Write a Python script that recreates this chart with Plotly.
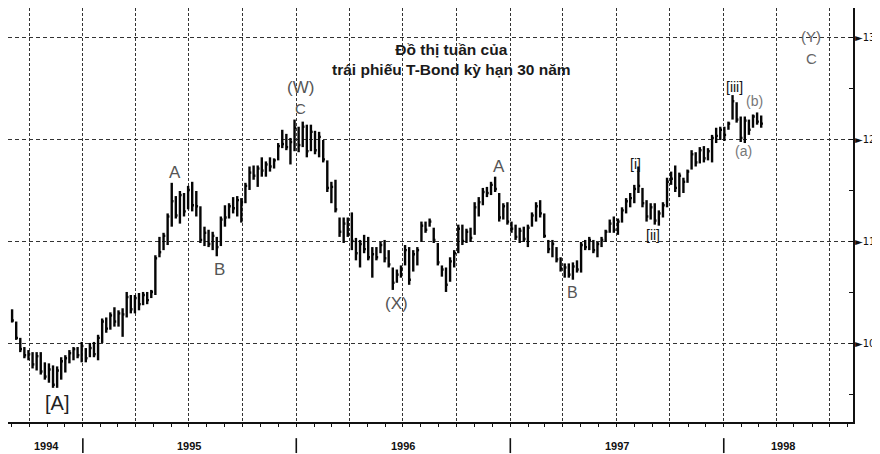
import plotly.graph_objects as go
import pandas as pd

# ---- weekly T-Bond bars (price points), first week ending 1994-09-02 ----
start_week = "1994-09-02"

highs = [
    103.4, 102.2, 100.6, 99.7, 99.4, 99.2, 99.2, 99.2, 98.2, 98.1,
    97.9, 97.8, 98.7, 98.9, 99.4, 99.7, 99.7, 100.2, 99.6, 100.1,
    100.2, 100.9, 102.5, 102.6, 103.1, 103.6, 103.3, 103.5, 105.1, 104.8,
    104.8, 105.0, 105.1, 105.1, 105.3, 108.7, 110.5, 110.9, 112.8, 115.8,
    114.5, 115.0, 114.8, 115.5, 115.9, 115.0, 113.5, 111.5, 111.2, 111.0,
    110.5, 112.5, 113.6, 113.8, 114.4, 114.5, 114.3, 115.8, 117.4, 117.5,
    117.5, 118.3, 117.9, 118.3, 118.2, 119.7, 121.0, 120.6, 120.2, 122.0,
    121.3, 121.8, 121.5, 121.5, 120.9, 120.8, 120.0, 118.0, 115.9, 116.1,
    112.4, 112.4, 112.4, 112.9, 110.4, 110.2, 110.7, 110.5, 109.5, 109.5,
    110.0, 110.2, 109.2, 107.5, 107.3, 107.7, 109.7, 109.5, 109.2, 109.5,
    112.0, 112.0, 112.3, 111.4, 109.9, 107.7, 107.5, 108.5, 109.2, 111.7,
    111.7, 111.3, 111.4, 113.9, 114.4, 115.3, 115.4, 115.9, 116.4, 114.8,
    113.8, 113.9, 112.0, 111.7, 111.4, 111.5, 111.7, 112.9, 113.9, 114.1,
    112.8, 110.2, 110.2, 109.5, 108.5, 107.9, 107.9, 108.0, 108.2, 110.0,
    110.2, 110.5, 110.2, 110.0, 110.5, 111.2, 112.2, 112.5, 112.3, 113.4,
    114.3, 114.8, 115.6, 117.4, 115.3, 114.1, 113.8, 113.8, 113.1, 113.9,
    116.3, 116.9, 117.5, 116.8, 116.3, 117.1, 119.0, 118.8, 119.3, 119.4,
    119.2, 120.5, 121.2, 121.3, 121.3, 121.8, 124.4, 123.7, 122.3, 122.3,
    122.0, 122.5, 122.7, 122.4,
]

lows = [
    102.1, 100.4, 99.2, 98.6, 98.4, 97.6, 97.4, 97.0, 96.5, 96.2,
    95.7, 95.7, 96.5, 97.2, 98.1, 98.4, 98.6, 98.2, 98.2, 98.7,
    98.7, 98.4, 100.1, 101.1, 101.4, 101.7, 101.7, 100.7, 102.6, 103.0,
    103.0, 103.3, 103.8, 103.9, 104.5, 104.8, 108.5, 109.2, 109.7, 111.5,
    112.3, 111.8, 112.5, 113.2, 113.0, 112.5, 109.9, 109.6, 109.5, 109.2,
    108.6, 109.6, 111.5, 112.3, 112.8, 112.5, 111.9, 113.8, 115.1, 116.1,
    115.4, 116.4, 116.4, 116.9, 117.2, 118.0, 119.2, 119.0, 117.6, 118.9,
    118.8, 119.3, 118.3, 118.9, 118.6, 118.3, 117.8, 114.9, 113.8, 112.9,
    110.5, 109.9, 110.5, 109.2, 108.2, 107.5, 108.9, 108.2, 106.5, 108.2,
    108.9, 108.0, 107.5, 105.3, 106.0, 106.5, 107.7, 105.8, 107.1, 107.7,
    110.0, 110.9, 111.5, 109.9, 107.7, 106.6, 105.1, 106.1, 107.5, 108.9,
    109.7, 109.9, 110.0, 110.7, 112.5, 113.6, 114.4, 114.6, 114.9, 112.0,
    112.2, 111.7, 110.9, 110.2, 109.9, 110.0, 109.5, 111.5, 112.0, 112.4,
    110.4, 108.9, 108.5, 108.0, 107.1, 106.5, 106.5, 106.3, 107.0, 107.0,
    109.2, 109.2, 108.9, 108.5, 109.5, 110.0, 110.9, 110.9, 110.7, 111.9,
    112.8, 113.4, 113.8, 114.8, 113.4, 112.0, 112.2, 111.7, 111.6, 112.4,
    113.4, 115.6, 114.9, 114.4, 114.8, 115.8, 117.1, 117.4, 117.7, 117.8,
    118.0, 117.8, 119.7, 120.0, 119.9, 121.0, 122.0, 121.7, 119.8, 119.7,
    120.5, 121.2, 121.5, 121.2,
]

closes = [
    102.3, 100.6, 99.5, 98.9, 99.0, 98.0, 98.8, 97.3, 96.8, 97.5,
    96.0, 97.4, 98.3, 98.6, 99.1, 99.5, 98.9, 99.8, 98.6, 99.6,
    99.0, 100.6, 102.2, 101.5, 102.8, 102.2, 103.0, 102.9, 104.6, 103.4,
    104.5, 103.9, 104.8, 104.3, 105.1, 108.4, 109.0, 110.6, 112.5, 114.0,
    112.6, 114.6, 113.0, 115.1, 113.6, 113.5, 110.2, 110.9, 109.8, 110.6,
    109.5, 112.2, 112.4, 113.5, 113.3, 114.1, 113.9, 115.5, 116.8, 116.5,
    117.2, 117.0, 117.6, 117.4, 118.0, 119.4, 119.6, 119.3, 119.8, 121.2,
    119.5, 121.3, 118.9, 120.8, 119.0, 120.3, 118.1, 115.3, 115.4, 113.2,
    111.0, 111.8, 110.8, 110.1, 108.9, 109.8, 109.3, 108.5, 108.8, 108.5,
    109.7, 108.4, 107.8, 106.0, 106.8, 107.4, 109.2, 106.3, 108.8, 109.2,
    111.6, 111.2, 112.0, 110.2, 108.0, 107.3, 105.8, 108.1, 108.9, 111.3,
    110.1, 111.0, 110.4, 113.4, 113.9, 114.9, 114.8, 115.6, 115.2, 112.4,
    113.5, 112.0, 111.3, 110.5, 111.1, 110.3, 111.4, 112.6, 113.5, 112.8,
    110.6, 109.3, 109.8, 108.3, 107.4, 107.5, 106.8, 107.6, 107.3, 109.7,
    109.5, 110.2, 109.2, 109.8, 110.2, 111.0, 111.8, 111.2, 112.0, 113.1,
    114.0, 114.3, 115.2, 115.5, 113.8, 112.5, 113.4, 112.1, 112.8, 113.6,
    115.9, 116.2, 115.3, 116.5, 115.9, 116.9, 118.6, 117.8, 119.0, 118.2,
    118.9, 120.2, 120.4, 121.0, 120.5, 121.6, 123.8, 122.0, 120.2, 121.9,
    121.0, 122.3, 121.8, 121.6,
]

# ---- axis labels ----
price_ticks = [100, 110, 120, 130]
year_labels = ["1994", "1995", "1996", "1997", "1998"]
year_label_pos = ["1994-10-31", "1995-07-02", "1996-07-01", "1997-07-02", "1998-04-12"]
year_bounds = ["1995-01-01", "1996-01-01", "1997-01-01", "1998-01-01"]
quarter_lines = [
    "1994-10-01", "1995-01-01", "1995-04-01", "1995-07-01", "1995-10-01",
    "1996-01-01", "1996-04-01", "1996-07-01", "1996-10-01",
    "1997-01-01", "1997-04-01", "1997-07-01", "1997-10-01",
    "1998-01-01", "1998-04-01", "1998-07-01",
]

# ---- Elliott wave labels ----
wave_text = ["[A]", "A", "B", "(W)", "C", "(X)", "A", "B",
             "[i]", "[ii]", "[iii]", "(a)", "(b)", "(Y)", "C"]
wave_date = ["1994-11-17", "1995-06-08", "1995-08-23", "1996-01-09", "1996-01-09",
             "1996-06-20", "1996-12-13", "1997-04-18",
             "1997-08-03", "1997-09-02", "1998-01-20", "1998-02-03", "1998-02-23",
             "1998-05-31", "1998-05-31"]
wave_price = [94.2, 116.8, 107.3, 125.1, 123.1, 104.0, 117.4, 105.0,
              117.6, 110.7, 125.2, 118.9, 123.8, 130.1, 128.0]
wave_size = [20, 17, 17, 17, 15, 17, 17, 16, 14, 14, 14, 14, 14, 15, 15]
wave_color = ["#222", "#555", "#555", "#555", "#555", "#555", "#555", "#555",
              "#111", "#111", "#111", "#777", "#777", "#666", "#666"]

title_text = "Đồ thị tuần của<br>trái phiếu T-Bond kỳ hạn 30 năm"

# ---- build HLC bar geometry (through the date / price axes) ----
dates = pd.date_range(start_week, periods=len(highs), freq="7D")
tick = pd.Timedelta(days=3)
xs, ys = [], []
for d, h, l, c in zip(dates, highs, lows, closes):
    xs += [d, d, None, d, d + tick, None]
    ys += [h, l, None, c, c, None]

fig = go.Figure()
fig.add_trace(go.Scatter(
    x=xs, y=ys, mode="lines",
    line=dict(color="#050505", width=2.4),
    hoverinfo="skip", showlegend=False,
))

annotations = []
for t, d, p, s, col in zip(wave_text, wave_date, wave_price, wave_size, wave_color):
    annotations.append(dict(
        x=d, y=p, xref="x", yref="y", text=t, showarrow=False,
        font=dict(family="Liberation Sans, Arial, sans-serif", size=s, color=col),
        xanchor="center", yanchor="middle",
    ))
for t, d in zip(year_labels, year_label_pos):
    annotations.append(dict(
        x=d, y=-0.058, xref="x", yref="paper", text=t, showarrow=False,
        font=dict(family="Liberation Sans, Arial, sans-serif", size=11, color="#111", weight="bold"),
        xanchor="center", yanchor="middle",
    ))
annotations.append(dict(
    x=0.5245, y=0.8756, xref="paper", yref="paper", text=title_text, showarrow=False,
    font=dict(family="Liberation Sans, Arial, sans-serif", size=15.5, color="#1a1a1a", weight="bold"),
    xanchor="center", yanchor="middle", align="center",
))

shapes = [dict(type="line", xref="x", yref="paper", x0=b, x1=b, y0=-0.039, y1=-0.075,
               line=dict(color="#111", width=1.6)) for b in year_bounds]

fig.update_layout(
    width=880, height=454,
    margin=dict(l=0, r=35, t=0, b=40),
    paper_bgcolor="white", plot_bgcolor="white",
    showlegend=False,
    annotations=annotations,
    shapes=shapes,
    xaxis=dict(
        type="date",
        range=["1994-08-26", "1998-08-10"],
        tickmode="array", tickvals=quarter_lines,
        showticklabels=False,
        ticks="outside", ticklen=3, tickcolor="#111",
        showgrid=True, gridcolor="#333", gridwidth=1, griddash="3px,2px",
        showline=True, linecolor="#111", linewidth=2,
        zeroline=False,
        minor=dict(dtick="M1", tick0="1994-09-01", ticks="outside", ticklen=3,
                   tickcolor="#111", showgrid=False),
    ),
    yaxis=dict(
        side="right",
        range=[92.35, 132.94],
        tickmode="array", tickvals=price_ticks,
        ticktext=["►" + str(v) for v in price_ticks],
        ticks="", ticklen=0, ticklabelstandoff=-2,
        tickfont=dict(family="DejaVu Sans, sans-serif", size=10, color="#111"),
        showgrid=True, gridcolor="#333", gridwidth=1, griddash="4px,3px",
        showline=True, linecolor="#111", linewidth=2,
        zeroline=False,
        automargin=False,
        minor=dict(dtick=5, tick0=0, ticks="inside", ticklen=4, tickcolor="#111", showgrid=False),
    ),
)

fig.write_html("out.html")
